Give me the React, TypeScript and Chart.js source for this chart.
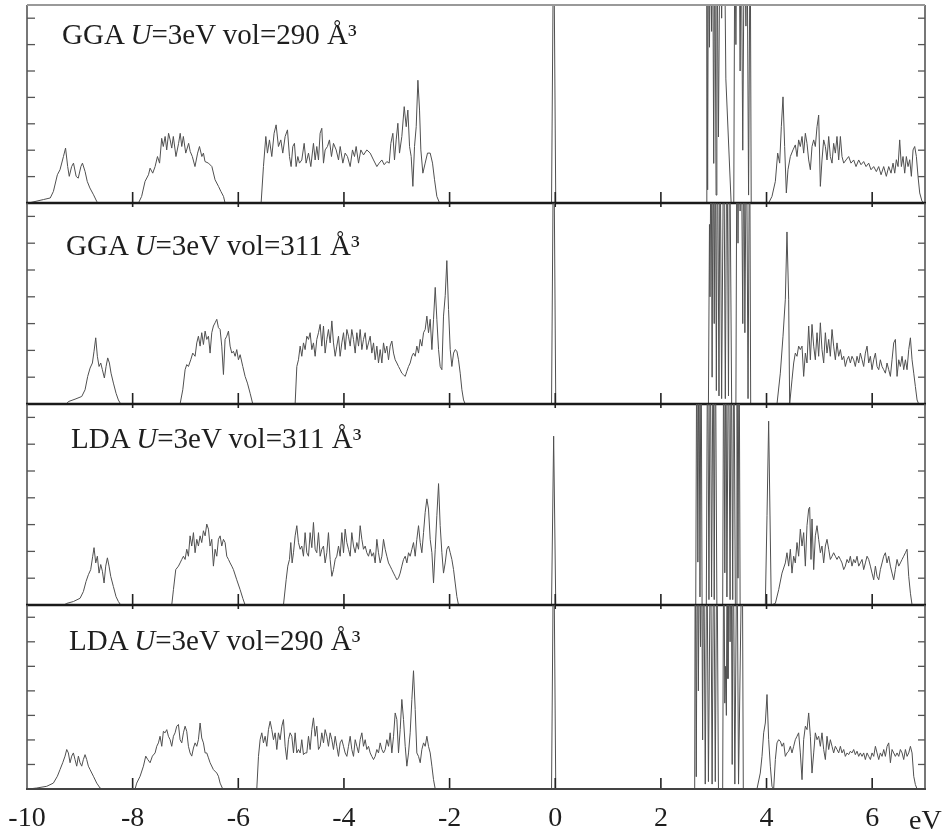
import React, { useEffect, useRef } from 'react';
import { Chart, registerables } from 'chart.js';

Chart.register(...registerables);

type Pt = [number, number];

// Energy axis (eV) and tick marks
const xTicks = [-10, -8, -6, -4, -2, 0, 2, 4, 6];
const dosTicks = [1, 2, 3, 4, 5, 6, 7];
const energyMin = -10;
const energyMax = 7;
const dosMax = 7.5;

// Panel captions
const methods = ['GGA', 'GGA', 'LDA', 'LDA'];
const hubbardU = [3, 3, 3, 3];
const volumes = [290, 311, 311, 290];

// ---------- GGA, U = 3 eV, vol = 290 Å^3 ----------
const gga290Valence: Pt[] = [
  [-10, 0], [-9.97, 0], [-9.69, 0.13], [-9.56, 0.19], [-9.5, 0.44], [-9.425, 1.07], [-9.375, 1.26], [-9.31, 1.76],
  [-9.27, 2.08], [-9.23, 1.38], [-9.2, 1.01], [-9.155, 1.38], [-9.12, 1.51], [-9.07, 1.01], [-9.03, 0.94],
  [-8.98, 1.38], [-8.95, 1.51], [-8.9, 1.19], [-8.86, 0.82], [-8.81, 0.57], [-8.74, 0.31], [-8.68, 0.06], [-8.65, 0],
  [-7.89, 0], [-7.83, 0.25], [-7.765, 0.82], [-7.7, 1.07], [-7.67, 1.32], [-7.62, 1.13], [-7.575, 1.38], [-7.53, 1.76],
  [-7.49, 1.51], [-7.45, 2.45], [-7.42, 2.14], [-7.385, 2.52], [-7.355, 2.01], [-7.32, 2.64], [-7.29, 2.39],
  [-7.26, 2.08], [-7.23, 2.52], [-7.18, 1.76], [-7.13, 2.26], [-7.1, 2.64], [-7.07, 2.14], [-7.04, 2.52],
  [-6.995, 1.89], [-6.94, 2.26], [-6.91, 1.95], [-6.87, 1.76], [-6.82, 1.38], [-6.77, 1.89], [-6.735, 2.14],
  [-6.69, 1.76], [-6.66, 1.89], [-6.63, 1.57], [-6.565, 1.51], [-6.5, 1.38], [-6.44, 0.88], [-6.375, 0.63],
  [-6.33, 0.44], [-6.28, 0.25], [-6.25, 0],
  [-5.568, 0], [-5.524, 1.38], [-5.479, 2.52], [-5.448, 1.89], [-5.41, 2.39], [-5.366, 1.76], [-5.322, 2.64],
  [-5.284, 2.96], [-5.24, 2.14], [-5.195, 2.39], [-5.158, 1.89], [-5.113, 2.52], [-5.069, 2.77], [-5.031, 1.76],
  [-5.0, 1.38], [-4.968, 2.14], [-4.937, 2.26], [-4.905, 1.38], [-4.873, 1.76], [-4.842, 1.51], [-4.798, 1.63],
  [-4.753, 2.26], [-4.716, 1.51], [-4.671, 1.89], [-4.627, 1.38], [-4.577, 2.26], [-4.545, 1.63], [-4.514, 2.14],
  [-4.482, 1.63], [-4.451, 2.64], [-4.419, 2.83], [-4.387, 1.51], [-4.356, 2.01], [-4.312, 2.14], [-4.274, 2.39],
  [-4.236, 1.76], [-4.198, 2.26], [-4.147, 2.01], [-4.103, 1.63], [-4.071, 2.14], [-4.021, 1.51], [-3.977, 1.89],
  [-3.933, 1.76], [-3.882, 1.38], [-3.838, 2.01], [-3.8, 1.76], [-3.769, 2.14], [-3.724, 1.51], [-3.68, 2.01],
  [-3.629, 1.82], [-3.567, 2.01], [-3.503, 1.89], [-3.44, 1.63], [-3.377, 1.38], [-3.333, 1.51], [-3.282, 1.63],
  [-3.238, 1.45], [-3.188, 1.57], [-3.143, 1.51], [-3.112, 2.26], [-3.074, 2.64], [-3.043, 1.63], [-3.011, 2.39],
  [-2.979, 3.02], [-2.948, 1.89], [-2.904, 2.52], [-2.859, 3.65], [-2.821, 2.89], [-2.79, 3.52], [-2.758, 2.14],
  [-2.727, 1.76], [-2.695, 0.63], [-2.664, 2.14], [-2.632, 2.89], [-2.6, 4.65], [-2.569, 3.52], [-2.544, 2.01],
  [-2.506, 1.13], [-2.462, 1.51], [-2.418, 1.89], [-2.367, 1.89], [-2.323, 1.51], [-2.285, 0.88], [-2.241, 0.25],
  [-2.19, 0],
];
const gga290Fermi: Pt[] = [[-0.07, 0], [-0.03, 11], [0.01, 0]];
const gga290FBand: Pt[] = [
  [2.82, 0], [2.86, 0], [2.87, 11], [2.885, 0.5], [2.9, 11], [2.92, 5.9], [2.94, 11], [2.96, 6.5], [2.98, 11],
  [3.0, 1.5], [3.02, 11], [3.045, 0.3], [3.06, 11], [3.09, 2.5], [3.12, 11], [3.15, 7], [3.18, 11], [3.2, 11],
  [3.23, 4.7], [3.33, 0], [3.38, 0], [3.4, 11], [3.42, 6], [3.44, 11], [3.46, 8], [3.48, 11], [3.5, 5], [3.52, 11],
  [3.55, 2], [3.58, 11], [3.61, 6.7], [3.63, 11], [3.66, 0.3], [3.69, 11], [3.71, 0], [3.76, 0],
];
const gga290Conduction: Pt[] = [
  [4.04, 0], [4.103, 0.25], [4.167, 0.82], [4.211, 1.89], [4.249, 1.51], [4.28, 2.89], [4.312, 4.02], [4.343, 2.14],
  [4.375, 0.38], [4.406, 1.26], [4.451, 1.76], [4.501, 2.01], [4.545, 2.2], [4.577, 1.76], [4.608, 2.39],
  [4.64, 2.14], [4.672, 2.52], [4.703, 1.89], [4.735, 2.64], [4.766, 2.26], [4.798, 1.63], [4.83, 1.26],
  [4.861, 2.14], [4.893, 2.39], [4.924, 2.14], [4.956, 2.89], [4.987, 3.33], [5.019, 0.63], [5.05, 1.63],
  [5.082, 2.39], [5.114, 2.14], [5.145, 1.63], [5.177, 2.52], [5.208, 1.76], [5.24, 1.51], [5.271, 2.26],
  [5.303, 1.89], [5.334, 2.52], [5.366, 1.63], [5.398, 2.52], [5.429, 1.76], [5.461, 1.51], [5.505, 1.63],
  [5.555, 1.76], [5.599, 1.51], [5.65, 1.63], [5.694, 1.38], [5.745, 1.63], [5.789, 1.45], [5.839, 1.57],
  [5.884, 1.38], [5.934, 1.51], [5.978, 1.26], [6.029, 1.38], [6.079, 1.19], [6.123, 1.38], [6.168, 1.07],
  [6.218, 1.38], [6.268, 1.01], [6.313, 1.38], [6.357, 1.13], [6.395, 1.51], [6.427, 1.13], [6.458, 1.64],
  [6.49, 1.38], [6.521, 2.39], [6.553, 1.38], [6.584, 1.76], [6.616, 1.13], [6.647, 1.76], [6.679, 1.38],
  [6.711, 1.64], [6.742, 1.01], [6.774, 2.01], [6.805, 2.14], [6.837, 1.76], [6.868, 1.01], [6.9, 0.38],
  [6.944, 0.06], [6.988, 0], [7, 0],
];

// ---------- GGA, U = 3 eV, vol = 311 Å^3 ----------
const gga311Valence: Pt[] = [
  [-10, 0], [-9.25, 0], [-9.217, 0.09], [-9.091, 0.18], [-8.964, 0.28], [-8.901, 0.53], [-8.851, 1.03],
  [-8.806, 1.34], [-8.762, 1.53], [-8.731, 1.97], [-8.699, 2.47], [-8.668, 1.78], [-8.636, 1.4], [-8.604, 1.53],
  [-8.573, 1.28], [-8.535, 0.97], [-8.503, 1.4], [-8.472, 1.72], [-8.44, 1.53], [-8.409, 1.15], [-8.364, 0.78],
  [-8.314, 0.4], [-8.27, 0.15], [-8.226, 0],
  [-7.102, 0], [-7.051, 0.53], [-7.007, 1.28], [-6.976, 1.47], [-6.944, 1.4], [-6.9, 1.65], [-6.862, 1.9],
  [-6.818, 1.78], [-6.786, 2.28], [-6.755, 2.53], [-6.723, 2.16], [-6.692, 2.66], [-6.66, 2.22], [-6.628, 2.72],
  [-6.597, 2.41], [-6.565, 2.53], [-6.534, 1.9], [-6.502, 2.66], [-6.471, 2.91], [-6.439, 3.03], [-6.407, 3.16],
  [-6.376, 2.85], [-6.344, 2.78], [-6.313, 2.16], [-6.281, 1.1], [-6.25, 2.41], [-6.218, 2.53], [-6.186, 2.72],
  [-6.155, 2.16], [-6.123, 1.9], [-6.092, 1.97], [-6.06, 1.78], [-6.029, 2.03], [-5.997, 1.65], [-5.965, 1.84],
  [-5.915, 1.4], [-5.871, 1.03], [-5.827, 0.78], [-5.776, 0.4], [-5.726, 0],
  [-4.924, 0], [-4.892, 1.4], [-4.861, 1.65], [-4.829, 2.16], [-4.798, 1.78], [-4.766, 2.28], [-4.735, 2.03],
  [-4.703, 2.53], [-4.671, 2.41], [-4.64, 2.66], [-4.608, 2.03], [-4.577, 2.28], [-4.545, 1.78], [-4.514, 2.41],
  [-4.482, 2.66], [-4.45, 2.97], [-4.419, 2.16], [-4.387, 2.91], [-4.356, 1.9], [-4.324, 2.41], [-4.293, 2.78],
  [-4.261, 2.28], [-4.229, 3.1], [-4.198, 2.28], [-4.166, 1.78], [-4.135, 2.16], [-4.103, 2.53], [-4.072, 1.78],
  [-4.04, 2.28], [-4.008, 2.66], [-3.977, 2.03], [-3.945, 2.78], [-3.914, 2.53], [-3.882, 2.16], [-3.851, 2.78],
  [-3.819, 2.41], [-3.787, 1.9], [-3.756, 2.66], [-3.724, 2.16], [-3.693, 2.78], [-3.661, 2.03], [-3.63, 2.41],
  [-3.598, 2.66], [-3.567, 2.03], [-3.535, 2.28], [-3.503, 2.53], [-3.472, 1.9], [-3.44, 2.28], [-3.409, 1.65],
  [-3.377, 2.16], [-3.346, 1.53], [-3.314, 2.03], [-3.282, 1.53], [-3.251, 2.28], [-3.219, 1.9], [-3.188, 2.16],
  [-3.156, 1.65], [-3.125, 2.16], [-3.093, 2.35], [-3.061, 1.9], [-3.03, 1.65], [-2.998, 1.53], [-2.967, 1.4],
  [-2.935, 1.28], [-2.904, 1.15], [-2.872, 1.09], [-2.84, 1.03], [-2.809, 1.22], [-2.777, 1.4], [-2.746, 1.53],
  [-2.714, 1.78], [-2.683, 1.9], [-2.651, 1.78], [-2.62, 2.16], [-2.588, 1.9], [-2.556, 2.41], [-2.525, 2.16],
  [-2.493, 2.66], [-2.462, 2.78], [-2.43, 3.28], [-2.399, 2.66], [-2.367, 3.16], [-2.335, 2.03], [-2.304, 3.16],
  [-2.272, 4.35], [-2.241, 3.16], [-2.209, 2.03], [-2.178, 1.4], [-2.146, 1.28], [-2.115, 3.28], [-2.083, 4.04],
  [-2.052, 5.35], [-2.02, 3.53], [-1.988, 2.03], [-1.957, 1.4], [-1.925, 1.9], [-1.894, 2.03], [-1.862, 1.97],
  [-1.831, 1.65], [-1.799, 1.15], [-1.767, 0.53], [-1.736, 0.15], [-1.704, 0],
];
const gga311Fermi: Pt[] = [[-0.07, 0], [-0.03, 11], [0.01, 0]];
const gga311FBand: Pt[] = [
  [2.85, 0], [2.9, 0], [2.92, 6.7], [2.93, 4], [2.95, 11], [2.97, 1], [2.99, 11], [3.01, 3], [3.03, 11],
  [3.05, 0.5], [3.07, 11], [3.1, 0.3], [3.12, 11], [3.15, 0.2], [3.19, 11], [3.22, 0.2], [3.25, 11], [3.28, 0.3],
  [3.3, 11], [3.34, 0], [3.42, 0], [3.44, 11], [3.46, 6], [3.48, 11], [3.5, 7.2], [3.52, 11], [3.55, 3],
  [3.57, 11], [3.59, 2.66], [3.62, 11], [3.65, 0.2], [3.68, 11], [3.7, 0], [3.75, 0],
];
const gga311Conduction: Pt[] = [
  [4.198, 0], [4.261, 1.15], [4.312, 2.53], [4.356, 3.91], [4.387, 6.42], [4.419, 3.91], [4.438, 0],
  [4.482, 0.9], [4.514, 1.53], [4.545, 1.9], [4.577, 1.78], [4.608, 2.16], [4.64, 2.03], [4.672, 2.16],
  [4.703, 1.03], [4.735, 1.9], [4.766, 1.53], [4.798, 2.91], [4.83, 1.65], [4.861, 2.97], [4.893, 2.16],
  [4.924, 1.65], [4.956, 2.66], [4.987, 1.78], [5.019, 3.03], [5.05, 2.03], [5.082, 1.53], [5.114, 2.66],
  [5.145, 1.9], [5.177, 2.41], [5.208, 1.78], [5.24, 2.78], [5.271, 2.16], [5.303, 1.65], [5.334, 2.28],
  [5.366, 1.78], [5.398, 2.03], [5.429, 1.65], [5.461, 1.78], [5.492, 1.4], [5.524, 1.65], [5.555, 1.78],
  [5.587, 1.53], [5.618, 1.78], [5.65, 1.65], [5.681, 1.4], [5.713, 1.78], [5.745, 1.53], [5.776, 1.9],
  [5.808, 1.65], [5.839, 1.4], [5.871, 1.9], [5.903, 2.16], [5.934, 1.53], [5.966, 1.78], [5.997, 1.28],
  [6.029, 1.65], [6.061, 1.9], [6.092, 1.4], [6.124, 1.28], [6.155, 1.65], [6.187, 1.4], [6.218, 1.28],
  [6.25, 1.15], [6.281, 1.53], [6.313, 1.28], [6.345, 1.03], [6.376, 1.65], [6.408, 2.28], [6.439, 2.41],
  [6.471, 1.03], [6.503, 1.65], [6.534, 1.4], [6.566, 1.78], [6.597, 1.28], [6.629, 1.65], [6.66, 1.28],
  [6.692, 2.03], [6.724, 2.47], [6.755, 1.65], [6.787, 1.15], [6.818, 0.65], [6.85, 0.15], [6.881, 0], [7, 0],
];

// ---------- LDA, U = 3 eV, vol = 311 Å^3 ----------
const lda311Valence: Pt[] = [
  [-10, 0], [-9.3, 0], [-9.248, 0.06], [-9.122, 0.13], [-8.996, 0.25], [-8.933, 0.5], [-8.882, 0.88],
  [-8.838, 1.13], [-8.794, 1.32], [-8.756, 1.82], [-8.731, 2.14], [-8.699, 1.57], [-8.668, 1.82], [-8.636, 1.19],
  [-8.604, 1.51], [-8.573, 1.26], [-8.541, 0.82], [-8.51, 1.45], [-8.478, 1.76], [-8.447, 1.45], [-8.415, 1.07],
  [-8.365, 0.69], [-8.314, 0.31], [-8.27, 0.13], [-8.226, 0],
  [-7.26, 0], [-7.228, 0.57], [-7.184, 1.32], [-7.133, 1.45], [-7.102, 1.57], [-7.07, 1.7], [-7.039, 1.82],
  [-7.007, 1.7], [-6.976, 2.08], [-6.944, 1.82], [-6.913, 2.58], [-6.881, 2.2], [-6.849, 2.7], [-6.818, 1.95],
  [-6.786, 2.45], [-6.755, 2.2], [-6.723, 2.58], [-6.692, 2.33], [-6.66, 2.77], [-6.628, 2.58], [-6.597, 3.02],
  [-6.565, 2.83], [-6.534, 2.2], [-6.502, 2.45], [-6.471, 1.45], [-6.439, 2.08], [-6.407, 1.82], [-6.376, 2.45],
  [-6.344, 2.58], [-6.313, 2.2], [-6.281, 2.45], [-6.25, 2.33], [-6.218, 1.82], [-6.186, 1.7], [-6.155, 1.57],
  [-6.123, 1.45], [-6.092, 1.32], [-6.029, 0.94], [-5.965, 0.57], [-5.915, 0.25], [-5.871, 0],
  [-5.145, 0], [-5.094, 0.94], [-5.063, 1.45], [-5.031, 1.7], [-5.006, 2.33], [-4.981, 1.57], [-4.955, 1.95],
  [-4.924, 2.58], [-4.892, 2.96], [-4.861, 2.33], [-4.829, 2.08], [-4.798, 2.2], [-4.766, 1.82], [-4.735, 2.7],
  [-4.703, 1.95], [-4.671, 1.82], [-4.64, 2.7], [-4.608, 2.14], [-4.577, 3.08], [-4.545, 2.08], [-4.514, 1.95],
  [-4.482, 2.7], [-4.45, 1.82], [-4.419, 2.08], [-4.387, 2.2], [-4.356, 1.57], [-4.324, 1.95], [-4.293, 2.7],
  [-4.261, 1.7], [-4.229, 1.07], [-4.198, 1.32], [-4.166, 1.7], [-4.135, 1.82], [-4.103, 2.2], [-4.072, 1.82],
  [-4.04, 2.7], [-4.008, 1.95], [-3.977, 2.83], [-3.945, 2.33], [-3.914, 2.08], [-3.882, 1.82], [-3.851, 2.7],
  [-3.819, 2.2], [-3.787, 1.95], [-3.756, 2.33], [-3.724, 2.08], [-3.693, 2.96], [-3.661, 2.45], [-3.63, 2.08],
  [-3.598, 2.2], [-3.567, 1.95], [-3.535, 1.82], [-3.503, 2.08], [-3.472, 1.82], [-3.44, 1.95], [-3.409, 1.57],
  [-3.377, 2.45], [-3.346, 1.95], [-3.314, 1.57], [-3.282, 1.82], [-3.251, 2.45], [-3.219, 2.08], [-3.188, 1.82],
  [-3.156, 1.57], [-3.125, 1.45], [-3.093, 1.32], [-3.061, 1.19], [-3.03, 1.07], [-2.998, 0.94], [-2.967, 1.01],
  [-2.935, 1.19], [-2.904, 1.45], [-2.872, 1.7], [-2.84, 1.82], [-2.809, 1.57], [-2.777, 1.95], [-2.746, 1.82],
  [-2.714, 2.08], [-2.683, 2.33], [-2.651, 1.82], [-2.62, 2.45], [-2.588, 2.96], [-2.556, 2.33], [-2.525, 1.95],
  [-2.493, 2.7], [-2.462, 3.46], [-2.43, 3.96], [-2.399, 3.58], [-2.367, 2.45], [-2.335, 1.95], [-2.304, 0.82],
  [-2.272, 2.08], [-2.241, 3.33], [-2.209, 4.53], [-2.178, 2.96], [-2.146, 1.95], [-2.115, 1.19], [-2.083, 1.57],
  [-2.052, 2.08], [-2.02, 2.2], [-1.988, 1.95], [-1.957, 1.7], [-1.925, 1.32], [-1.894, 0.82], [-1.862, 0.31],
  [-1.831, 0],
];
const lda311Fermi: Pt[] = [[-0.07, 0], [-0.03, 6.3], [0.01, 0]];
const lda311FBand: Pt[] = [
  [2.6, 0], [2.66, 0], [2.68, 11], [2.7, 1.6], [2.72, 11], [2.74, 0.3], [2.76, 11], [2.78, 0], [2.86, 0],
  [2.885, 11], [2.91, 0.2], [2.935, 11], [2.96, 0.3], [2.99, 11], [3.01, 0.2], [3.03, 11], [3.06, 0], [3.17, 0],
  [3.19, 11], [3.21, 1.2], [3.23, 11], [3.25, 0.3], [3.28, 11], [3.31, 0.2], [3.33, 11], [3.36, 0.2], [3.38, 11],
  [3.41, 0], [3.43, 0], [3.44, 11], [3.46, 1], [3.48, 11], [3.5, 0], [3.55, 0],
];
const lda311Conduction: Pt[] = [
  [3.977, 0], [4.009, 3.33], [4.04, 6.86], [4.09, 0],
  [4.167, 0.06], [4.23, 0.57], [4.293, 1.19], [4.356, 1.57], [4.387, 1.95], [4.419, 1.45], [4.451, 2.08],
  [4.482, 1.19], [4.514, 1.82], [4.545, 1.57], [4.577, 2.33], [4.608, 1.82], [4.64, 2.83], [4.672, 2.2],
  [4.703, 2.7], [4.735, 1.45], [4.766, 2.96], [4.798, 3.58], [4.817, 3.65], [4.842, 1.7], [4.861, 3.21],
  [4.893, 1.32], [4.924, 2.58], [4.956, 2.96], [4.987, 2.45], [5.019, 1.95], [5.05, 2.2], [5.082, 1.57],
  [5.114, 2.2], [5.145, 2.45], [5.177, 2.08], [5.208, 1.7], [5.24, 1.82], [5.271, 1.95], [5.303, 1.82],
  [5.334, 1.7], [5.366, 1.82], [5.398, 1.7], [5.429, 1.57], [5.461, 1.32], [5.492, 1.45], [5.524, 1.7],
  [5.555, 1.57], [5.587, 1.82], [5.618, 1.45], [5.65, 1.7], [5.681, 1.57], [5.713, 1.82], [5.745, 1.45],
  [5.776, 1.57], [5.808, 1.7], [5.839, 1.32], [5.871, 1.57], [5.903, 1.82], [5.934, 1.7], [5.966, 1.45],
  [5.997, 1.19], [6.029, 0.94], [6.061, 1.45], [6.092, 1.07], [6.124, 0.94], [6.155, 1.32], [6.187, 1.57],
  [6.218, 1.82], [6.25, 1.95], [6.281, 1.57], [6.313, 1.82], [6.345, 1.45], [6.376, 1.19], [6.408, 0.94],
  [6.439, 1.32], [6.471, 1.7], [6.503, 1.45], [6.534, 1.57], [6.566, 1.7], [6.597, 1.82], [6.629, 1.95],
  [6.66, 2.08], [6.692, 1.07], [6.724, 0.44], [6.755, 0], [7, 0],
];

// ---------- LDA, U = 3 eV, vol = 290 Å^3 ----------
const lda290Valence: Pt[] = [
  [-10, 0], [-9.974, 0], [-9.817, 0.04], [-9.627, 0.11], [-9.501, 0.24], [-9.425, 0.52], [-9.375, 0.79],
  [-9.324, 1.07], [-9.28, 1.34], [-9.248, 1.61], [-9.217, 1.47], [-9.185, 1.07], [-9.154, 1.34], [-9.122, 1.47],
  [-9.091, 1.2], [-9.059, 0.93], [-9.027, 1.34], [-8.996, 1.07], [-8.964, 0.93], [-8.933, 1.2], [-8.901, 1.4],
  [-8.87, 1.2], [-8.838, 0.93], [-8.806, 0.79], [-8.743, 0.52], [-8.68, 0.24], [-8.617, 0.04], [-8.585, 0],
  [-7.954, 0], [-7.923, 0.24], [-7.859, 0.52], [-7.796, 0.93], [-7.752, 1.34], [-7.714, 1.2], [-7.67, 1.07],
  [-7.626, 1.34], [-7.575, 1.47], [-7.544, 1.74], [-7.512, 1.88], [-7.481, 2.15], [-7.449, 1.74], [-7.418, 2.35],
  [-7.386, 2.29], [-7.354, 2.42], [-7.323, 2.15], [-7.291, 2.01], [-7.26, 1.74], [-7.228, 2.15], [-7.197, 2.29],
  [-7.165, 2.56], [-7.133, 2.63], [-7.102, 2.01], [-7.07, 1.88], [-7.039, 2.29], [-7.007, 2.56], [-6.976, 2.35],
  [-6.944, 1.74], [-6.913, 1.47], [-6.881, 1.34], [-6.849, 1.67], [-6.818, 1.88], [-6.786, 1.74], [-6.755, 2.01],
  [-6.723, 2.69], [-6.692, 2.08], [-6.66, 1.88], [-6.628, 1.47], [-6.597, 1.47], [-6.565, 1.27], [-6.534, 1.07],
  [-6.471, 0.79], [-6.407, 0.65], [-6.376, 0.52], [-6.344, 0.24], [-6.294, 0],
  [-5.65, 0], [-5.618, 1.33], [-5.587, 2.01], [-5.555, 2.29], [-5.524, 1.88], [-5.492, 2.15], [-5.461, 1.74],
  [-5.429, 2.42], [-5.397, 2.76], [-5.366, 2.42], [-5.334, 2.01], [-5.303, 2.29], [-5.271, 1.61], [-5.24, 2.29],
  [-5.208, 2.01], [-5.176, 2.56], [-5.145, 2.83], [-5.113, 1.74], [-5.082, 1.2], [-5.05, 2.01], [-5.019, 2.29],
  [-4.987, 2.15], [-4.955, 1.47], [-4.924, 2.29], [-4.892, 1.47], [-4.861, 1.61], [-4.829, 1.47], [-4.798, 2.01],
  [-4.766, 1.4], [-4.735, 1.47], [-4.703, 1.47], [-4.671, 2.15], [-4.64, 1.61], [-4.608, 2.42], [-4.577, 2.9],
  [-4.545, 2.15], [-4.514, 2.56], [-4.482, 1.61], [-4.45, 1.74], [-4.419, 2.29], [-4.387, 1.88], [-4.356, 2.42],
  [-4.324, 2.15], [-4.293, 1.74], [-4.261, 2.29], [-4.229, 2.01], [-4.198, 1.61], [-4.166, 2.15], [-4.135, 1.74],
  [-4.103, 1.33], [-4.072, 1.88], [-4.04, 2.01], [-4.008, 1.74], [-3.977, 1.47], [-3.945, 1.33], [-3.914, 1.74],
  [-3.882, 2.15], [-3.851, 1.61], [-3.819, 1.33], [-3.787, 2.01], [-3.756, 1.74], [-3.724, 1.47], [-3.693, 2.01],
  [-3.661, 2.29], [-3.63, 1.74], [-3.598, 2.01], [-3.567, 1.61], [-3.535, 1.74], [-3.503, 1.47], [-3.472, 1.33],
  [-3.44, 1.2], [-3.409, 1.33], [-3.377, 1.61], [-3.346, 1.47], [-3.314, 1.88], [-3.282, 1.61], [-3.251, 1.47],
  [-3.219, 1.61], [-3.188, 2.01], [-3.156, 1.74], [-3.125, 2.29], [-3.093, 1.47], [-3.061, 2.15], [-3.03, 3.1],
  [-2.998, 2.83], [-2.967, 1.47], [-2.935, 2.42], [-2.904, 3.65], [-2.872, 2.83], [-2.84, 1.74], [-2.809, 0.93],
  [-2.777, 1.47], [-2.746, 2.29], [-2.714, 3.65], [-2.683, 4.82], [-2.651, 3.24], [-2.62, 1.47], [-2.588, 1.33],
  [-2.556, 1.07], [-2.525, 1.61], [-2.493, 1.88], [-2.462, 1.74], [-2.43, 2.15], [-2.399, 1.74], [-2.367, 1.47],
  [-2.335, 0.93], [-2.304, 0.38], [-2.272, 0],
];
const lda290Fermi: Pt[] = [[-0.07, 0], [-0.03, 11], [0.01, 0]];
const lda290FBand: Pt[] = [
  [2.6, 0], [2.64, 0], [2.65, 11], [2.67, 0.5], [2.69, 11], [2.71, 4], [2.73, 11], [2.75, 5.8], [2.77, 11],
  [2.79, 2], [2.81, 11], [2.84, 0.2], [2.87, 11], [2.9, 0.3], [2.94, 11], [2.97, 0.2], [3.0, 11], [3.03, 0.3],
  [3.06, 11], [3.09, 0], [3.17, 0], [3.19, 11], [3.21, 3.5], [3.225, 5], [3.24, 3], [3.255, 11], [3.27, 4.5],
  [3.29, 11], [3.31, 6], [3.33, 11], [3.35, 1], [3.37, 11], [3.4, 0.2], [3.44, 11], [3.47, 0.2], [3.54, 11],
  [3.56, 0], [3.62, 0],
];
const lda290Conduction: Pt[] = [
  [3.819, 0], [3.882, 0.65], [3.914, 1.33], [3.946, 2.29], [3.977, 2.69], [4.009, 3.85], [4.04, 2.02],
  [4.072, 0.93], [4.103, 0.11], [4.135, 0], [4.167, 1.2], [4.198, 1.88], [4.23, 2.01], [4.261, 1.95],
  [4.293, 1.74], [4.324, 1.88], [4.356, 1.33], [4.388, 1.47], [4.419, 1.54], [4.451, 1.74], [4.482, 1.47],
  [4.514, 1.74], [4.545, 2.01], [4.577, 2.15], [4.608, 2.29], [4.64, 1.47], [4.672, 0.38], [4.703, 2.01],
  [4.735, 2.56], [4.767, 2.42], [4.798, 3.1], [4.83, 2.15], [4.861, 0.65], [4.893, 1.47], [4.924, 2.29],
  [4.956, 2.01], [4.987, 2.15], [5.019, 1.74], [5.05, 2.29], [5.082, 1.61], [5.114, 1.2], [5.145, 2.15],
  [5.177, 1.61], [5.208, 2.01], [5.24, 1.74], [5.271, 1.47], [5.303, 1.74], [5.334, 1.61], [5.366, 1.47],
  [5.398, 1.74], [5.429, 1.47], [5.461, 1.61], [5.492, 1.33], [5.524, 1.47], [5.555, 1.4], [5.587, 1.54],
  [5.618, 1.47], [5.65, 1.61], [5.681, 1.4], [5.713, 1.54], [5.745, 1.33], [5.776, 1.47], [5.808, 1.33],
  [5.839, 1.47], [5.871, 1.2], [5.903, 1.47], [5.934, 1.33], [5.966, 1.2], [5.997, 1.47], [6.029, 1.33],
  [6.061, 1.74], [6.092, 1.47], [6.124, 1.2], [6.155, 1.47], [6.187, 1.33], [6.219, 1.61], [6.25, 1.33],
  [6.282, 1.74], [6.313, 1.88], [6.345, 1.07], [6.376, 1.61], [6.408, 1.47], [6.439, 1.33], [6.471, 1.47],
  [6.503, 1.33], [6.534, 1.61], [6.566, 1.47], [6.597, 1.2], [6.629, 1.61], [6.661, 1.33], [6.692, 1.47],
  [6.724, 1.74], [6.755, 1.47], [6.787, 0.52], [6.818, 0.18], [6.85, 0], [7, 0],
];

const gga290: Pt[] = [...gga290Valence, ...gga290Fermi, ...gga290FBand, ...gga290Conduction];
const gga311: Pt[] = [...gga311Valence, ...gga311Fermi, ...gga311FBand, ...gga311Conduction];
const lda311: Pt[] = [...lda311Valence, ...lda311Fermi, ...lda311FBand, ...lda311Conduction];
const lda290: Pt[] = [...lda290Valence, ...lda290Fermi, ...lda290FBand, ...lda290Conduction];
const panelSeries = [gga290, gga311, lda311, lda290];

// ---------- layout ----------
const W = 943;
const H = 837;
const PLOT_LEFT = 27;
const PLOT_RIGHT = 925;
const panelTop = [5, 203, 404, 605];
const panelBottom = [203, 404, 605, 789];
const SERIF = '"Liberation Serif", "Times New Roman", serif';

const framePlugin = {
  id: 'dosFrame',
  afterDatasetsDraw(chart: any, _args: any, opts: any) {
    const { ctx, chartArea: a } = chart;
    const xs = chart.scales.x;
    const ys = chart.scales.y;
    const seg = (x1: number, y1: number, x2: number, y2: number) => {
      ctx.beginPath();
      ctx.moveTo(x1, y1);
      ctx.lineTo(x2, y2);
      ctx.stroke();
    };
    ctx.save();
    // inward minor ticks on both sides
    ctx.strokeStyle = '#555';
    ctx.lineWidth = 1.3;
    for (const v of dosTicks) {
      const py = ys.getPixelForValue(v);
      seg(a.left, py, a.left + 8, py);
      seg(a.right - 7, py, a.right, py);
    }
    // energy ticks along the bottom edge
    ctx.strokeStyle = '#222';
    ctx.lineWidth = 1.6;
    for (const v of xTicks) {
      if (v <= energyMin) continue;
      const px = xs.getPixelForValue(v);
      seg(px, a.bottom - 11, px, a.bottom + (opts.last ? 0 : 4));
    }
    // side frame
    ctx.strokeStyle = '#555';
    ctx.lineWidth = 1.6;
    seg(a.left, a.top, a.left, a.bottom);
    seg(a.right, a.top, a.right, a.bottom);
    if (opts.first) {
      ctx.strokeStyle = '#999';
      ctx.lineWidth = 1.8;
      seg(a.left, a.top, a.right, a.top);
    }
    ctx.strokeStyle = opts.last ? '#444' : '#1a1a1a';
    ctx.lineWidth = opts.last ? 1.8 : 2.6;
    seg(a.left - 1, a.bottom, a.right + 1, a.bottom);
    ctx.restore();
  },
};

function makeConfig(i: number): any {
  const last = i === panelSeries.length - 1;
  return {
    type: 'line',
    data: {
      datasets: [
        {
          data: panelSeries[i].map(([x, y]) => ({ x, y })),
          borderColor: '#505050',
          borderWidth: 1,
          pointRadius: 0,
          tension: 0,
          fill: false,
        },
      ],
    },
    options: {
      animation: false,
      responsive: false,
      maintainAspectRatio: false,
      events: [],
      layout: {
        padding: {
          left: PLOT_LEFT,
          right: W - PLOT_RIGHT,
          top: panelTop[i],
          bottom: last ? 2 : H - panelBottom[i],
        },
      },
      plugins: {
        legend: { display: false },
        tooltip: { enabled: false },
        dosFrame: { first: i === 0, last },
      },
      scales: {
        x: {
          type: 'linear',
          min: energyMin,
          max: energyMax,
          display: last,
          afterBuildTicks: (axis: any) => {
            axis.ticks = xTicks.map((value) => ({ value }));
          },
          grid: {
            display: true,
            drawOnChartArea: false,
            drawTicks: true,
            tickLength: 14,
            tickColor: 'rgba(0,0,0,0)',
          },
          border: { display: false },
          ticks: {
            autoSkip: false,
            maxRotation: 0,
            padding: 2,
            color: '#1e1e1e',
            font: { family: SERIF, size: 28, lineHeight: 1 },
            callback: (v: number) => String(v),
          },
        },
        y: { min: 0, max: dosMax, display: false },
      },
    },
    plugins: [framePlugin],
  };
}

const captionTop = [20, 231, 424, 626];
const captionLeft = [62, 66, 71, 69];

export default function App() {
  const refs = useRef<(HTMLCanvasElement | null)[]>([]);

  useEffect(() => {
    const charts = panelSeries.map((_, i) => new Chart(refs.current[i] as HTMLCanvasElement, makeConfig(i)));
    return () => charts.forEach((c) => c.destroy());
  }, []);

  return (
    <div style={{ position: 'absolute', left: 0, top: 0, width: W, height: H, background: '#fff', overflow: 'hidden' }}>
      {panelSeries.map((_, i) => (
        <canvas
          key={i}
          ref={(el) => {
            refs.current[i] = el;
          }}
          width={W}
          height={H}
          style={{ position: 'absolute', left: 0, top: 0, width: W, height: H }}
        />
      ))}
      {methods.map((m, i) => (
        <div
          key={m + i}
          style={{
            position: 'absolute',
            left: captionLeft[i],
            top: captionTop[i],
            fontFamily: SERIF,
            fontSize: 29,
            lineHeight: '29px',
            color: '#1e1e1e',
            whiteSpace: 'nowrap',
          }}
        >
          {m} <i>U</i>={hubbardU[i]}eV vol={volumes[i]} Å³
        </div>
      ))}
      <div
        style={{
          position: 'absolute',
          left: 909,
          top: 806,
          fontFamily: SERIF,
          fontSize: 28,
          lineHeight: '28px',
          color: '#1e1e1e',
          whiteSpace: 'nowrap',
        }}
      >
        eV
      </div>
    </div>
  );
}
